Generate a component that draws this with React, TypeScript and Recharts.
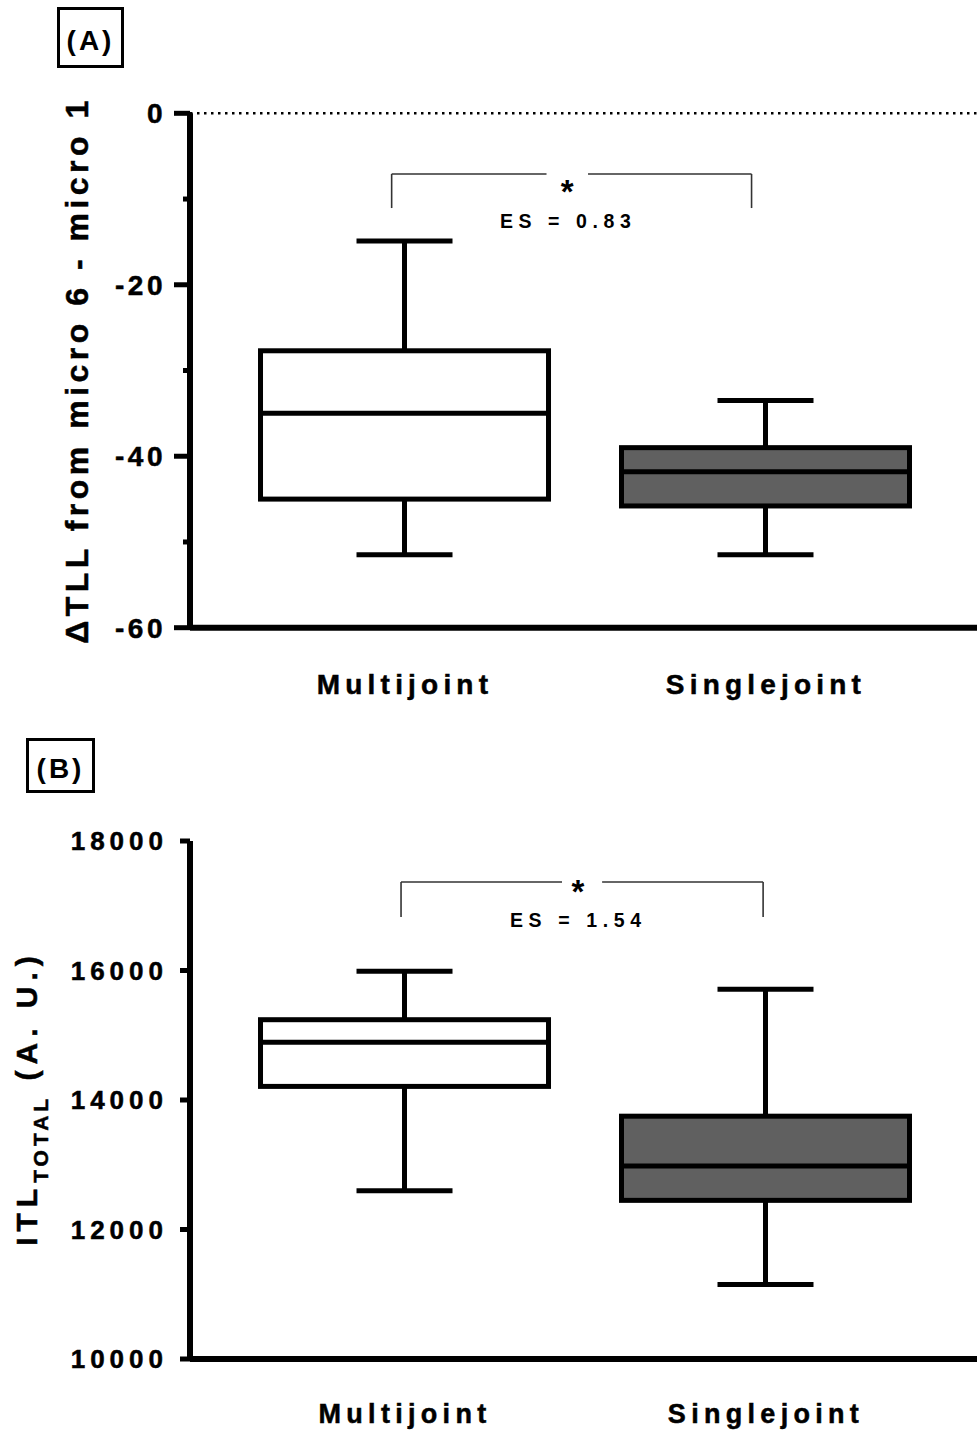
import React from 'react';
import { ComposedChart, Bar, XAxis, YAxis, ReferenceLine, ReferenceDot } from 'recharts';

// ---------- data ----------
const categories = ['Multijoint', 'Singlejoint'];
const categoryPositions = [1, 2];
const boxFills = ['#ffffff', '#606060'];

// Panel A: ΔTLL from micro 6 - micro 1
const tllMin = [-51.5, -51.5];
const tllQ1 = [-45.0, -45.8];
const tllMedian = [-35.0, -41.8];
const tllQ3 = [-27.7, -39.0];
const tllMax = [-14.9, -33.5];
const tllTicks = [-60, -50, -40, -30, -20, -10, 0];
const tllLabeledTicks = [-60, -40, -20, 0];

// Panel B: ITL total (A.U.)
const itlMin = [12600, 11150];
const itlQ1 = [14210, 12450];
const itlMedian = [14890, 12980];
const itlQ3 = [15240, 13750];
const itlMax = [15990, 15710];
const itlTicks = [10000, 12000, 14000, 16000, 18000];
const itlLabeledTicks = [10000, 12000, 14000, 16000, 18000];

// significance annotations (data coordinates)
const tllBracket = { x1: 0.963, x2: 1.96, gapFrom: 1.392, gapTo: 1.507, top: -7.08, bottom: -11.05, starX: 1.449, starY: -10.52, esX: 1.452, esY: -13.38, es: 'ES = 0.83' };
const itlBracket = { x1: 0.989, x2: 1.992, gapFrom: 1.435, gapTo: 1.546, top: 17366, bottom: 16825, starX: 1.479, starY: 17049, esX: 1.48, esY: 16671, es: 'ES = 1.54' };

const FONT = '"Liberation Sans", Arial, Helvetica, sans-serif';
const heavy = { stroke: '#000', strokeWidth: 0.5 };

function buildRows(min: number[], q1: number[], med: number[], q3: number[], max: number[]) {
  return categories.map((name, i) => ({
    name,
    pos: categoryPositions[i],
    range: [min[i], max[i]],
    min: min[i],
    q1: q1[i],
    median: med[i],
    q3: q3[i],
    max: max[i],
    fill: boxFills[i],
  }));
}

const tllRows = buildRows(tllMin, tllQ1, tllMedian, tllQ3, tllMax);
const itlRows = buildRows(itlMin, itlQ1, itlMedian, itlQ3, itlMax);

const BoxShape = (props: any) => {
  const { x, y, width, height, payload } = props;
  if (!payload) return null;
  const top = Math.min(y, y + height);
  const bottom = Math.max(y, y + height);
  const span = payload.max - payload.min;
  const toPx = (v: number) => top + ((payload.max - v) / span) * (bottom - top);
  const cx = x + width / 2;
  const capHalf = width / 6;
  const sw = 5;
  const yMax = toPx(payload.max);
  const yQ3 = toPx(payload.q3);
  const yMed = toPx(payload.median);
  const yQ1 = toPx(payload.q1);
  const yMin = toPx(payload.min);
  return (
    <g>
      <line x1={cx} x2={cx} y1={yMax} y2={yQ3} stroke="#000" strokeWidth={sw} />
      <line x1={cx} x2={cx} y1={yQ1} y2={yMin} stroke="#000" strokeWidth={sw} />
      <line x1={cx - capHalf} x2={cx + capHalf} y1={yMax} y2={yMax} stroke="#000" strokeWidth={sw} />
      <line x1={cx - capHalf} x2={cx + capHalf} y1={yMin} y2={yMin} stroke="#000" strokeWidth={sw} />
      <rect x={x} y={yQ3} width={width} height={yQ1 - yQ3} fill={payload.fill} stroke="#000" strokeWidth={sw} />
      <line x1={x} x2={x + width} y1={yMed} y2={yMed} stroke="#000" strokeWidth={sw} />
    </g>
  );
};

const makeYTick = (labeled: number[], majorLen: number, minorLen: number, fontSize: number, gap: number, spacing: number) => (props: any) => {
  const { x, y, payload } = props;
  const v = payload.value;
  const isMajor = labeled.includes(v);
  return (
    <g>
      <line x1={x - (isMajor ? majorLen : minorLen)} x2={x} y1={y} y2={y} stroke="#000" strokeWidth={5} />
      {isMajor && (
        <text x={x - majorLen - gap} y={y} dy="0.36em" textAnchor="end" fontFamily={FONT} fontWeight="bold" fontSize={fontSize} letterSpacing={spacing} fill="#000" {...heavy}>
          {v}
        </text>
      )}
    </g>
  );
};

const makeXTick = (fontSize: number, baseline: number, spacing: number) => (props: any) => {
  const { x, y, payload } = props;
  const idx = categoryPositions.indexOf(payload.value);
  return (
    <text x={x} y={y + baseline} textAnchor="middle" fontFamily={FONT} fontWeight="bold" fontSize={fontSize} letterSpacing={spacing} fill="#000" {...heavy}>
      {categories[idx]}
    </text>
  );
};

const TextMark = (text: string, fontSize: number, spacing: number) => (p: any) => (
  <text x={p.cx} y={p.cy} textAnchor="middle" fontFamily={FONT} fontWeight="bold" fontSize={fontSize} letterSpacing={spacing} fill="#000">
    {text}
  </text>
);

const YLabelA = () => (
  <text x={88} y={370} transform="rotate(-90, 88, 370)" textAnchor="middle" fontFamily={FONT} fontWeight="bold" fontSize={32} letterSpacing={4.5} fill="#000" {...heavy}>
    ΔTLL from micro 6 - micro 1
  </text>
);

const YLabelB = () => (
  <text x={37} y={387} transform="rotate(-90, 37, 387)" textAnchor="middle" fontFamily={FONT} fontWeight="bold" fontSize={30} letterSpacing={6} fill="#000" {...heavy}>
    ITL
    <tspan fontSize={21} letterSpacing={4} dy={11}>TOTAL</tspan>
    <tspan dy={-11}> (A. U.)</tspan>
  </text>
);

function Bracket(b: any, color: string) {
  return [
    <ReferenceLine key="l" segment={[{ x: b.x1, y: b.top }, { x: b.gapFrom, y: b.top }]} stroke={color} strokeWidth={1.6} />,
    <ReferenceLine key="r" segment={[{ x: b.gapTo, y: b.top }, { x: b.x2, y: b.top }]} stroke={color} strokeWidth={1.6} />,
    <ReferenceLine key="vl" segment={[{ x: b.x1, y: b.top }, { x: b.x1, y: b.bottom }]} stroke={color} strokeWidth={1.6} />,
    <ReferenceLine key="vr" segment={[{ x: b.x2, y: b.top }, { x: b.x2, y: b.bottom }]} stroke={color} strokeWidth={1.6} />,
    <ReferenceDot key="star" x={b.starX} y={b.starY} r={0} shape={TextMark('*', 33, 0)} />,
    <ReferenceDot key="es" x={b.esX} y={b.esY} r={0} shape={TextMark(b.es, 19.5, 5.6)} />,
  ];
}

const tagStyle = (left: number, top: number, w: number, h: number): React.CSSProperties => ({
  position: 'absolute',
  left,
  top,
  width: w,
  height: h,
  border: '3px solid #000',
  boxSizing: 'border-box',
  display: 'flex',
  alignItems: 'center',
  justifyContent: 'center',
  fontFamily: FONT,
  fontWeight: 'bold',
  fontSize: 28,
  letterSpacing: 3,
  paddingTop: 7,
  color: '#000',
  background: '#fff',
});

const X_DOMAIN: [number, number] = [0.4044, 2.5845];

export default function App() {
  return (
    <div style={{ position: 'absolute', left: 0, top: 0, width: 977, height: 1431, overflow: 'hidden', background: '#fff' }}>
      <div style={tagStyle(57, 7, 67, 61)}>(A)</div>
      <div style={tagStyle(26, 738, 69, 55)}>(B)</div>

      <div style={{ position: 'absolute', left: 0, top: 0 }}>
        <ComposedChart width={977} height={720} data={tllRows} margin={{ top: 113.3, right: 0, bottom: 0, left: 0 }}>
          <XAxis
            type="number"
            dataKey="pos"
            domain={X_DOMAIN}
            ticks={categoryPositions}
            interval={0}
            height={92.3}
            axisLine={{ stroke: '#000', strokeWidth: 6 }}
            tickLine={false}
            tickSize={0}
            tickMargin={0}
            tick={makeXTick(28, 66, 5.2)}
          />
          <YAxis
            type="number"
            domain={[-60, 0]}
            ticks={tllTicks}
            interval={0}
            width={190}
            axisLine={{ stroke: '#000', strokeWidth: 6 }}
            tickLine={false}
            tickSize={0}
            tickMargin={0}
            tick={makeYTick(tllLabeledTicks, 16, 7, 28, 8, 3.5)}
            label={<YLabelA />}
          />
          <ReferenceLine y={0} stroke="#000" strokeWidth={2.5} strokeDasharray="2.5 4.5" />
          <Bar dataKey="range" barSize={288} shape={BoxShape} isAnimationActive={false} />
          {Bracket(tllBracket, '#333')}
        </ComposedChart>
      </div>

      <div style={{ position: 'absolute', left: 0, top: 711 }}>
        <ComposedChart width={977} height={720} data={itlRows} margin={{ top: 130, right: 0, bottom: 0, left: 0 }}>
          <XAxis
            type="number"
            dataKey="pos"
            domain={X_DOMAIN}
            ticks={categoryPositions}
            interval={0}
            height={72}
            axisLine={{ stroke: '#000', strokeWidth: 6 }}
            tickLine={false}
            tickSize={0}
            tickMargin={0}
            tick={makeXTick(27, 64, 5.3)}
          />
          <YAxis
            type="number"
            domain={[10000, 18000]}
            ticks={itlTicks}
            interval={0}
            width={190}
            axisLine={{ stroke: '#000', strokeWidth: 6 }}
            tickLine={false}
            tickSize={0}
            tickMargin={0}
            tick={makeYTick(itlLabeledTicks, 10, 6, 26, 12, 5)}
            label={<YLabelB />}
          />
          <Bar dataKey="range" barSize={288} shape={BoxShape} isAnimationActive={false} />
          {Bracket(itlBracket, '#333')}
        </ComposedChart>
      </div>
    </div>
  );
}
